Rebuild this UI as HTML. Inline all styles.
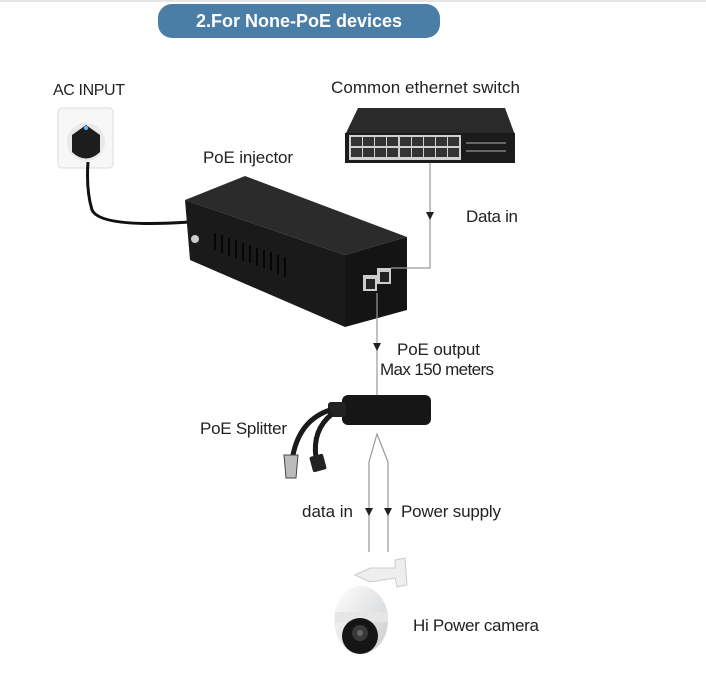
<!DOCTYPE html>
<html><head><meta charset="utf-8"><style>
html,body{margin:0;padding:0;background:#fff;}
svg{display:block;font-family:"Liberation Sans",sans-serif;}
</style></head><body>
<svg width="706" height="688" viewBox="0 0 706 688" xmlns="http://www.w3.org/2000/svg">
<defs>
<linearGradient id="dome" x1="0" y1="0" x2="1" y2="1"><stop offset="0" stop-color="#ffffff"/><stop offset="1" stop-color="#c9cbcd"/></linearGradient>
</defs>
<rect x="0" y="0" width="706" height="2" fill="#e6e6e6"/>
<rect x="158" y="4" width="282" height="34" rx="14" fill="#4b7ea7"/>
<text x="299" y="27" text-anchor="middle" fill="#fff" font-size="18" font-weight="bold">2.For None-PoE devices</text>

<text x="53" y="95" font-size="16" fill="#222" textLength="72">AC INPUT</text>
<rect x="58" y="108" width="55" height="60" rx="4" fill="#f7f7f7" stroke="#ddd"/>
<circle cx="86" cy="142" r="19" fill="#e9e9e9"/>
<path d="M72 135 L86 125 L100 135 L100 152 Q86 165 72 152 Z" fill="#1d1d1d"/>
<circle cx="86" cy="128" r="2" fill="#6bf"/>
<path d="M88 162 Q86 190 92 210 Q100 228 190 222" fill="none" stroke="#111" stroke-width="3"/>

<text x="331" y="93" font-size="17" fill="#222" textLength="189">Common ethernet switch</text>
<polygon points="345,135 358,108 505,108 515,135" fill="#2a2a2a"/>
<rect x="345" y="133" width="170" height="30" fill="#1b1b1b"/>
<rect x="349" y="135" width="112" height="25" fill="#cfcfcf"/>
<g fill="#333">
<rect x="351" y="137" width="11" height="9"/><rect x="363" y="137" width="11" height="9"/><rect x="375" y="137" width="11" height="9"/><rect x="387" y="137" width="11" height="9"/><rect x="400" y="137" width="11" height="9"/><rect x="412" y="137" width="11" height="9"/><rect x="424" y="137" width="11" height="9"/><rect x="436" y="137" width="11" height="9"/><rect x="448" y="137" width="11" height="9"/>
<rect x="351" y="148" width="11" height="9"/><rect x="363" y="148" width="11" height="9"/><rect x="375" y="148" width="11" height="9"/><rect x="387" y="148" width="11" height="9"/><rect x="400" y="148" width="11" height="9"/><rect x="412" y="148" width="11" height="9"/><rect x="424" y="148" width="11" height="9"/><rect x="436" y="148" width="11" height="9"/><rect x="448" y="148" width="11" height="9"/>
</g>
<rect x="466" y="142" width="40" height="2" fill="#666"/><rect x="466" y="150" width="40" height="2" fill="#666"/>

<text x="203" y="163" font-size="17" fill="#222" textLength="90">PoE injector</text>
<polygon points="185,200 245,176 407,237 345,255" fill="#2b2b2b"/>
<polygon points="185,200 345,255 345,327 190,260" fill="#1a1a1a"/>
<polygon points="345,255 407,237 407,310 345,327" fill="#141414"/>
<circle cx="195" cy="239" r="4" fill="#ccc"/>
<g stroke="#000" stroke-width="1.5">
<line x1="215" y1="233" x2="215" y2="250"/><line x1="222" y1="235" x2="222" y2="253"/><line x1="229" y1="238" x2="229" y2="256"/><line x1="236" y1="240" x2="236" y2="258"/><line x1="243" y1="243" x2="243" y2="261"/><line x1="250" y1="245" x2="250" y2="263"/><line x1="257" y1="248" x2="257" y2="266"/><line x1="264" y1="250" x2="264" y2="268"/><line x1="271" y1="252" x2="271" y2="271"/><line x1="278" y1="255" x2="278" y2="274"/><line x1="285" y1="257" x2="285" y2="277"/>
</g>
<rect x="363" y="275" width="14" height="16" fill="#ccc"/><rect x="377" y="268" width="14" height="16" fill="#ccc"/>
<rect x="366" y="279" width="9" height="10" fill="#222"/><rect x="380" y="272" width="9" height="10" fill="#222"/>

<g stroke="#999" stroke-width="1.2" fill="none">
<polyline points="430,163 430,268 391,268"/>
<line x1="377" y1="293" x2="377" y2="396"/>
<polyline points="369,552 369,462 377,434 388,462 388,552"/>
</g>
<polygon points="426,212 434,212 430,220" fill="#222"/>
<polygon points="373,343 381,343 377,351" fill="#222"/>
<polygon points="365,508 373,508 369,516" fill="#222"/>
<polygon points="384,508 392,508 388,516" fill="#222"/>

<text x="466" y="222" font-size="17" fill="#222" textLength="52">Data in</text>
<text x="397" y="355" font-size="17" fill="#222" textLength="83">PoE output</text>
<text x="380" y="375" font-size="17" fill="#222" textLength="114">Max 150 meters</text>

<text x="200" y="434" font-size="17" fill="#222" textLength="87">PoE Splitter</text>
<rect x="342" y="395" width="89" height="30" rx="6" fill="#161616"/>
<rect x="328" y="402" width="18" height="15" rx="3" fill="#222"/>
<path d="M330 410 Q300 420 293 455" stroke="#1a1a1a" stroke-width="5" fill="none"/>
<path d="M332 414 Q312 430 316 458" stroke="#1a1a1a" stroke-width="5" fill="none"/>
<polygon points="284,455 298,455 296,478 286,478" fill="#bbb" stroke="#444"/>
<rect x="311" y="455" width="14" height="16" rx="2" fill="#222" transform="rotate(-15 318 463)"/>

<text x="302" y="517" font-size="17" fill="#222" textLength="51">data in</text>
<text x="401" y="517" font-size="17" fill="#222" textLength="100">Power supply</text>

<polygon points="355,575 370,568 395,568 395,560 405,558 407,585 397,587 395,578 370,582" fill="#eee" stroke="#ccc"/>
<ellipse cx="361" cy="620" rx="27" ry="34" fill="url(#dome)"/>
<rect x="335" y="612" width="53" height="10" fill="#e6e6e6"/>
<circle cx="360" cy="636" r="18" fill="#151515"/>
<circle cx="360" cy="633" r="8" fill="#3a3a3a"/>
<circle cx="360" cy="633" r="3" fill="#666"/>
<text x="413" y="631" font-size="17" fill="#222" textLength="126">Hi Power camera</text>
</svg>
</body></html>
